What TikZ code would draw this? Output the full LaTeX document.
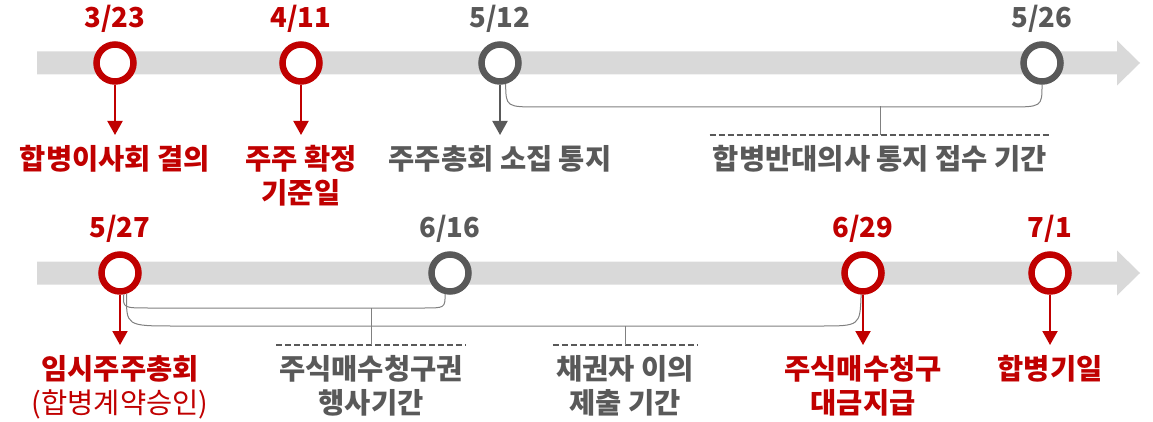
\documentclass[tikz,border=0pt]{standalone}
\usepackage{fontspec}
\setmainfont{Noto Sans CJK KR}
\usetikzlibrary{arrows.meta,positioning}
\definecolor{mred}{HTML}{C00000}
\definecolor{mgray}{HTML}{595959}
\definecolor{bargray}{HTML}{D9D9D9}
\definecolor{linegray}{HTML}{808080}
\tikzset{
  ring/.style={circle,draw=#1,fill=white,line width=6.5pt,minimum size=37pt,inner sep=0pt},
  datetxt/.style={text=#1,font=\bfseries\fontsize{27.5}{30}\selectfont,inner sep=0pt,text depth=0pt},
  tag/.style={text=#1,font=\bfseries\fontsize{28.5}{34}\selectfont,align=center,anchor=north,inner xsep=0pt,inner ysep=10pt},
  pointer/.style={draw=#1,line width=2pt,-{Triangle[width=15pt,length=14pt]}},
  spanline/.style={draw=linegray,line width=1pt},
  dashline/.style={draw=mgray,line width=1.6pt,dash pattern=on 6pt off 3pt}
}
\begin{document}
\begin{tikzpicture}[x=1pt,y=-1pt]
  \useasboundingbox(0,0)rectangle(1153,422);
  % time bars
  \foreach \y in{63,273}\fill[bargray](37,\y-11.5)--(1117,\y-11.5)--(1117,\y-22.5)--(1140,\y)--(1117,\y+22.5)--(1117,\y+11.5)--(37,\y+11.5)--cycle;
  % dates
  \foreach \n/\x/\m/\dd/\c in{d1/115/3/23/mred,d2/301/4/11/mred,d3/500/5/12/mgray,d4/1042/5/26/mgray}
    \node[ring=\c,label={[datetxt=\c,label distance=14pt]90:\m/\dd}](\n)at(\x,63){};
  \foreach \n/\x/\m/\dd/\c in{e1/120/5/27/mred,e2/450/6/16/mgray,e3/863/6/29/mred,e4/1050/7/1/mred}
    \node[ring=\c,label={[datetxt=\c,label distance=14pt]90:\m/\dd}](\n)at(\x,273){};
  % events
  \node[tag=mred](l1)at(115,135){합병이사회 결의};
  \node[tag=mred](l2)at(301,135){주주 확정\\기준일};
  \node[tag=mgray](l3)at(500,135){주주총회 소집 통지};
  \node[tag=mred](l5)at(120,345){임시주주총회\\{\mdseries(합병계약승인)}};
  \node[tag=mred](l7)at(863,345){주식매수청구\\대금지급};
  \node[tag=mred](l8)at(1050,345){합병기일};
  \foreach \a/\b/\c in{d1/l1/mred,d2/l2/mred,d3/l3/mgray,e1/l5/mred,e3/l7/mred,e4/l8/mred}\draw[pointer=\c](\a)--(\b);
  % periods
  \node[tag=mgray](p1)at(880,135){합병반대의사 통지 접수 기간};
  \node[tag=mgray](p2)at(371,345){주식매수청구권\\행사기간};
  \node[tag=mgray](p3)at(625,345){채권자 이의\\제출 기간};
  \foreach \p in{p1,p2,p3}\draw[dashline]([xshift=-3pt]\p.north west)--([xshift=3pt]\p.north east);
  \draw[spanline](d3.-75)..controls(506,107)..(540,107)--(1007,107)..controls(1042,107)..(d4.-90);
  \draw[spanline](e1.-80)..controls(123,308)..(150,308)--(423,308)..controls(445,308)..(e2.-103);
  \draw[spanline](e1.-72)..controls(126,326)..(175,326)--(820,326)..controls(860,326)..(e3.-95);
  \draw[spanline](p1.north)--++(0,-29);
  \draw[spanline](p2.north)--++(0,-37);
  \draw[spanline](p3.north)--++(0,-19);
\end{tikzpicture}
\end{document}
